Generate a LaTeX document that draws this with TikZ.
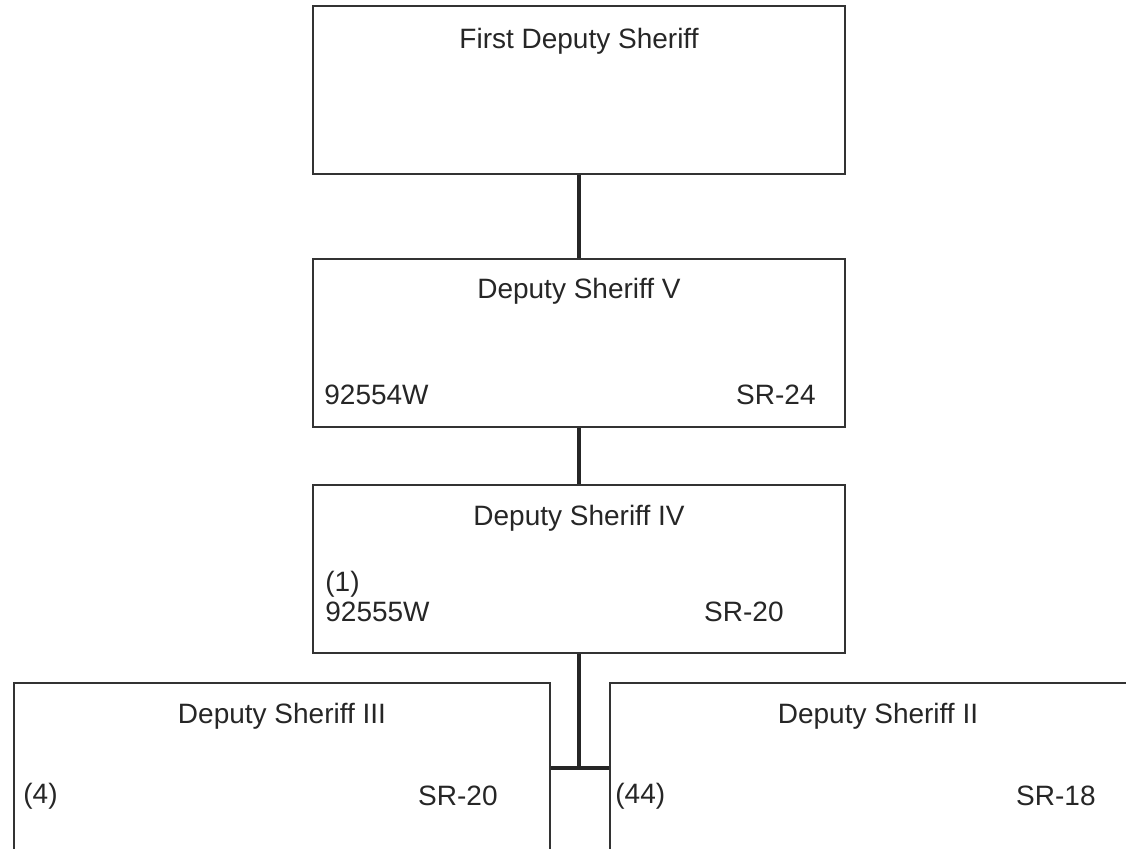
\documentclass[tikz,border=0pt]{standalone}
\usepackage{fontspec}
\setmainfont{Liberation Sans}
\usetikzlibrary{positioning}
\tikzset{
    rank-box/.style = {draw=black!80, line width=1pt, rectangle, minimum width=266pt, minimum height=84pt, inner sep=0pt},
    wide-box/.style = {rank-box, minimum width=268pt, minimum height=95pt},
    rank-title/.style = {text=black!85, font=\fontsize{14}{15}\selectfont, inner sep=0pt},
    rank-code/.style = {rank-title, align=left},
    link/.style = {draw=black!85, line width=2pt},
}

\begin{document}
\begin{tikzpicture}[x=0.5pt, y=-0.5pt]
\clip (0,0) rectangle (1126,849);
% chain of ranks
\node[rank-box] (fds) at (579,90.5) {};
\node[rank-title] (fds-title) at ([yshift=-18pt]fds.north) {First Deputy Sheriff};

\node[rank-box, below=41.5pt of fds] (dsv) {};
\node[rank-title] (dsv-title) at ([yshift=-16.5pt]dsv.north) {Deputy Sheriff V};
\node[rank-code, anchor=west] (dsv-code) at ([xshift=6pt, yshift=-68pt]dsv.north west) {92554W};
\node[rank-code, anchor=east] (dsv-grade) at ([xshift=-15pt, yshift=-68pt]dsv.north east) {SR-24};

\node[rank-box, below=28pt of dsv] (dsiv) {};
\node[rank-title] (dsiv-title) at ([yshift=-17pt]dsiv.north) {Deputy Sheriff IV};
\node[rank-code, anchor=west] (dsiv-code) at ([xshift=6.5pt, yshift=-56pt]dsiv.north west) {(1)\\92555W};
\node[rank-code, anchor=east] (dsiv-grade) at ([xshift=-31pt, yshift=-63.5pt]dsiv.north east) {SR-20};

% the two lower ranks, cut off by the page
\node[wide-box] (dsiii) at (282,778) {};
\node[rank-title] (dsiii-title) at ([yshift=-17pt]dsiii.north) {Deputy Sheriff III};
\node[rank-code, anchor=west] (dsiii-count) at ([xshift=5pt, yshift=-57pt]dsiii.north west) {(4)};
\node[rank-code, anchor=east] (dsiii-grade) at ([xshift=-26.5pt, yshift=-57pt]dsiii.north east) {SR-20};

\node[wide-box] (dsii) at (878,778) {};
\node[rank-title] (dsii-title) at ([yshift=-17pt]dsii.north) {Deputy Sheriff II};
\node[rank-code, anchor=west] (dsii-count) at ([xshift=3pt, yshift=-57pt]dsii.north west) {(44)};
\node[rank-code, anchor=east] (dsii-grade) at ([xshift=-25.5pt, yshift=-57pt]dsii.north east) {SR-18};

% connectors
\coordinate (split) at ([yshift=-57pt]dsiv.south);
\draw[link] (fds.south) -- (dsv.north);
\draw[link] (dsv.south) -- (dsiv.north);
\draw[link] (dsiv.south) -- (split);
\draw[link] (dsiii.east |- split) -- (dsii.west |- split);
\end{tikzpicture}
\end{document}
